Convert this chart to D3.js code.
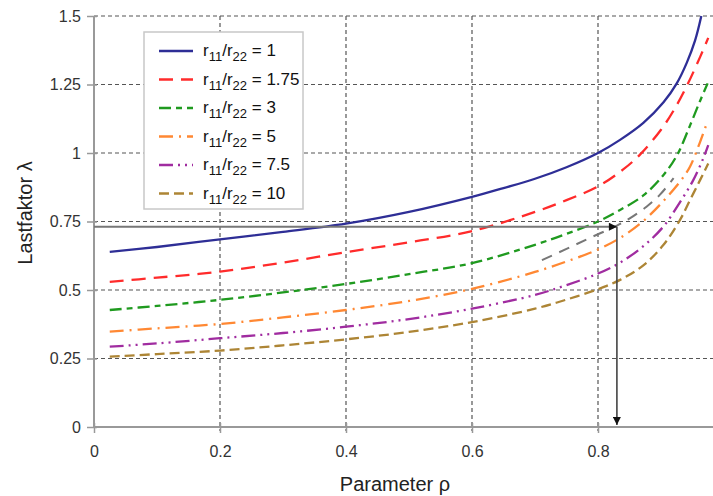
<!DOCTYPE html>
<html>
<head>
<meta charset="utf-8">
<script src="https://cdn.jsdelivr.net/npm/d3@7"></script>
<style>
  body { margin: 0; background: #fff; }
  svg { font-family: "Liberation Sans", Arial, sans-serif; }
</style>
</head>
<body>
<div id="chart"></div>
<script>
// Data
const ratioLabels = ['1', '1.75', '3', '5', '7.5', '10'];
const seriesColors = ['#2e2e96', '#ff2b2b', '#1f9a1f', '#ff8833', '#a02ca0', '#ad8535'];
const seriesDash = ['none', '14,8', '12,5,6,5', '14,6,2,6', '14,5,2,5,2,5', '10,5'];

const rho1 = [0.025, 0.1, 0.2, 0.3, 0.4, 0.5, 0.6, 0.65, 0.7, 0.75, 0.8, 0.835, 0.872, 0.904, 0.925, 0.941, 0.954, 0.964];
const lam1 = [0.639, 0.657, 0.685, 0.712, 0.742, 0.785, 0.840, 0.872, 0.906, 0.948, 1.0, 1.048, 1.110, 1.185, 1.254, 1.330, 1.41, 1.5];
const rho175 = [0.025, 0.1, 0.2, 0.3, 0.4, 0.5, 0.6, 0.7, 0.75, 0.8, 0.84, 0.867, 0.9, 0.92, 0.941, 0.962, 0.975];
const lam175 = [0.530, 0.545, 0.567, 0.600, 0.638, 0.674, 0.715, 0.785, 0.828, 0.878, 0.94, 0.995, 1.085, 1.155, 1.245, 1.35, 1.42];
const rho3 = [0.025, 0.1, 0.2, 0.3, 0.4, 0.5, 0.6, 0.7, 0.75, 0.8, 0.835, 0.872, 0.904, 0.925, 0.946, 0.962, 0.974];
const lam3 = [0.427, 0.442, 0.464, 0.491, 0.522, 0.558, 0.598, 0.665, 0.705, 0.750, 0.792, 0.845, 0.92, 0.99, 1.10, 1.19, 1.254];
const rho5 = [0.025, 0.1, 0.2, 0.3, 0.4, 0.5, 0.6, 0.7, 0.75, 0.8, 0.835, 0.872, 0.904, 0.93, 0.946, 0.962, 0.973];
const lam5 = [0.348, 0.360, 0.376, 0.400, 0.427, 0.460, 0.504, 0.566, 0.604, 0.648, 0.69, 0.752, 0.825, 0.895, 0.95, 1.04, 1.11];
const rho75 = [0.025, 0.1, 0.2, 0.3, 0.4, 0.5, 0.6, 0.7, 0.75, 0.8, 0.835, 0.872, 0.904, 0.93, 0.951, 0.967, 0.975];
const lam75 = [0.293, 0.305, 0.324, 0.343, 0.366, 0.394, 0.432, 0.482, 0.518, 0.56, 0.60, 0.66, 0.732, 0.82, 0.90, 0.98, 1.029];
const rho10 = [0.025, 0.1, 0.2, 0.3, 0.4, 0.5, 0.6, 0.7, 0.75, 0.8, 0.835, 0.872, 0.904, 0.93, 0.946, 0.962, 0.975];
const lam10 = [0.257, 0.266, 0.279, 0.298, 0.320, 0.347, 0.383, 0.432, 0.465, 0.503, 0.537, 0.59, 0.665, 0.755, 0.828, 0.901, 0.962];

// grey interpolated curve and the reading arrows
const rhoInterp = [0.711, 0.75, 0.787, 0.83, 0.851, 0.877, 0.898, 0.92];
const lamInterp = [0.609, 0.650, 0.690, 0.735, 0.762, 0.804, 0.847, 0.908];
const readRho = 0.83;
const readLam = 0.731;

const xTicks = [0, 0.2, 0.4, 0.6, 0.8];
const yTicks = [0, 0.25, 0.5, 0.75, 1, 1.25, 1.5];
const yTickLabels = ['0', '0.25', '0.5', '0.75', '1', '1.25', '1.5'];

const rhoSets = [rho1, rho175, rho3, rho5, rho75, rho10];
const lamSets = [lam1, lam175, lam3, lam5, lam75, lam10];

const W = 713, H = 496;
const plotLeft = 94, plotTop = 16, plotBottom = 427, plotRight = 713;

const svg = d3.select('#chart').append('svg')
    .attr('width', W)
    .attr('height', H);

const x = d3.scaleLinear().domain([0, 1]).range([plotLeft, plotLeft + 630]);
const y = d3.scaleLinear().domain([0, 1.5]).range([plotBottom, plotTop]);

// grid
svg.append('g').selectAll('line')
    .data(yTicks.filter(d => d > 0))
    .enter().append('line')
    .attr('x1', plotLeft).attr('x2', plotRight)
    .attr('y1', d => y(d)).attr('y2', d => y(d))
    .attr('stroke', '#555').attr('stroke-width', 1.2)
    .attr('stroke-dasharray', '4,3');

svg.append('g').selectAll('line')
    .data(xTicks.filter(d => d > 0))
    .enter().append('line')
    .attr('x1', d => x(d)).attr('x2', d => x(d))
    .attr('y1', plotTop).attr('y2', plotBottom + 4)
    .attr('stroke', '#555').attr('stroke-width', 1.2)
    .attr('stroke-dasharray', '4,3');

// axes
const yAxis = svg.append('g')
    .attr('transform', 'translate(' + plotLeft + ',0)')
    .call(d3.axisLeft(y).tickValues(yTicks).tickFormat((d, i) => yTickLabels[i]).tickSize(7).tickSizeOuter(0).tickPadding(6));
const xAxis = svg.append('g')
    .attr('transform', 'translate(0,' + plotBottom + ')')
    .call(d3.axisBottom(x).tickValues(xTicks).tickFormat(d => d === 0 ? '0' : d3.format('.1f')(d)).tickSize(6).tickSizeOuter(0).tickPadding(13));

[yAxis, xAxis].forEach(a => {
    a.select('.domain').attr('stroke', '#999').attr('stroke-width', 2);
    a.selectAll('.tick line').attr('stroke', '#999').attr('stroke-width', 1.5);
    a.selectAll('.tick text').attr('fill', '#333').style('font-size', '16px');
});
yAxis.select('.domain').attr('d', 'M0,' + plotTop + 'V' + plotBottom);
xAxis.select('.domain').attr('d', 'M' + plotLeft + ',0H' + plotRight);
xAxis.selectAll('.tick line').attr('y1', -4);
yAxis.selectAll('.tick line').attr('x1', 3);

// curves
const line = d3.line()
    .x(d => x(d[0]))
    .y(d => y(d[1]))
    .curve(d3.curveCatmullRom.alpha(0.5));

rhoSets.forEach((rs, i) => {
    svg.append('path')
        .datum(rs.map((r, j) => [r, lamSets[i][j]]))
        .attr('d', line)
        .attr('fill', 'none')
        .attr('stroke', seriesColors[i])
        .attr('stroke-width', 2.3)
        .attr('stroke-dasharray', seriesDash[i]);
});

svg.append('path')
    .datum(rhoInterp.map((r, j) => [r, lamInterp[j]]))
    .attr('d', line)
    .attr('fill', 'none')
    .attr('stroke', '#777')
    .attr('stroke-width', 2)
    .attr('stroke-dasharray', '11,8');

// arrows
const defs = svg.append('defs');
defs.append('marker')
    .attr('id', 'arr')
    .attr('viewBox', '0 0 10 10')
    .attr('refX', 10).attr('refY', 5)
    .attr('markerWidth', 9).attr('markerHeight', 8)
    .attr('markerUnits', 'userSpaceOnUse')
    .attr('orient', 'auto')
    .append('path').attr('d', 'M0,0L10,5L0,10Z').attr('fill', '#111');

svg.append('line')
    .attr('x1', plotLeft).attr('x2', x(readRho))
    .attr('y1', y(readLam)).attr('y2', y(readLam))
    .attr('stroke', '#777').attr('stroke-width', 2)
    .attr('marker-end', 'url(#arr)');
svg.append('line')
    .attr('x1', x(readRho)).attr('x2', x(readRho))
    .attr('y1', y(readLam)).attr('y2', plotBottom - 2)
    .attr('stroke', '#444').attr('stroke-width', 1.6)
    .attr('marker-end', 'url(#arr)');

// legend
const leg = svg.append('g');
leg.append('rect')
    .attr('x', 144).attr('y', 32).attr('width', 159).attr('height', 177)
    .attr('fill', '#fff').attr('stroke', '#c8c8c8').attr('stroke-width', 1.5);

ratioLabels.forEach((lab, i) => {
    const ly = 51 + i * 28.5;
    leg.append('line')
        .attr('x1', 159).attr('x2', 193)
        .attr('y1', ly).attr('y2', ly)
        .attr('stroke', seriesColors[i]).attr('stroke-width', 2.5)
        .attr('stroke-dasharray', seriesDash[i]);
    const t = leg.append('text')
        .attr('x', 203).attr('y', ly + 5)
        .attr('fill', '#111')
        .style('font-size', '17px');
    t.append('tspan').text('r');
    t.append('tspan').attr('dy', 5).style('font-size', '13px').text('11');
    t.append('tspan').attr('dy', -5).text('/r');
    t.append('tspan').attr('dy', 5).style('font-size', '13px').text('22');
    t.append('tspan').attr('dy', -5).text(' = ' + lab);
});

// axis titles
svg.append('text')
    .attr('x', 395).attr('y', 491)
    .attr('text-anchor', 'middle')
    .attr('fill', '#222')
    .style('font-size', '20px')
    .text('Parameter ρ');
svg.append('text')
    .attr('transform', 'translate(32,213) rotate(-90)')
    .attr('text-anchor', 'middle')
    .attr('fill', '#222')
    .style('font-size', '20px')
    .text('Lastfaktor λ');
</script>
</body>
</html>
